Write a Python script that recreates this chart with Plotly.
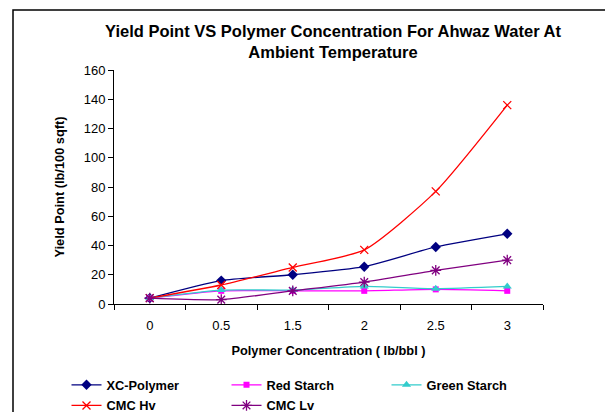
import plotly.graph_objects as go

categories = ["0", "0.5", "1.5", "2", "2.5", "3"]
xc_polymer = [4, 16, 20, 25.5, 39, 48]
red_starch = [4, 9, 9, 9, 10, 9]
green_starch = [4, 9.5, 9.5, 12, 10.5, 12]
cmc_hv = [4, 13, 25, 37, 77, 136]
cmc_lv = [4, 3, 9, 15, 23, 30]

series = [
    ("XC-Polymer", xc_polymer, "#000080", "diamond", 8, 0, "legend"),
    ("Red Starch", red_starch, "#FF00FF", "square", 6, 0, "legend2"),
    ("Green Starch", green_starch, "#33CCCC", "triangle-up", 8, 0, "legend3"),
    ("CMC Hv", cmc_hv, "#FF0000", "x-thin-open", 8, 1.3, "legend"),
    ("CMC Lv", cmc_lv, "#800080", "asterisk-open", 9, 1.3, "legend2"),
]

fig = go.Figure()
for name, vals, color, sym, size, lw, lg in series:
    marker = dict(symbol=sym, size=size, color=color)
    if lw:
        marker["line"] = dict(color=color, width=lw)
    fig.add_trace(go.Scatter(
        x=categories, y=vals, name="<b>" + name + "</b>", mode="lines+markers",
        line=dict(color=color, width=1.3, shape="spline", smoothing=0.6),
        marker=marker, legend=lg, legendgroup=name,
    ))

font = "Liberation Sans, Arial, sans-serif"
L, R, T, B = 114, 62, 70, 108
pw, ph = 605 - L - R, 412 - T - B

def px_x(x):
    return (x - L) / pw

def px_y(y):
    return (412 - B - y) / ph

leg_common = dict(
    orientation="v", xanchor="left", y=px_y(370), yanchor="top",
    font=dict(size=12.8, family=font), tracegroupgap=1,
    bgcolor="rgba(0,0,0,0)", borderwidth=0,
)

fig.update_layout(
    width=605, height=412,
    margin=dict(l=L, r=R, t=T, b=B, autoexpand=False),
    paper_bgcolor="white", plot_bgcolor="white",
    font=dict(family=font, size=13, color="black"),
    title=dict(
        text="<b>Yield Point VS Polymer Concentration For Ahwaz Water At<br>Ambient Temperature</b>",
        x=px_x(333), xref="paper", xanchor="center",
        y=(412 - 36.5) / 412, yref="container", yanchor="middle",
        font=dict(size=16.5, family=font),
    ),
    showlegend=True,
    legend=dict(x=px_x(66.5), **leg_common),
    legend2=dict(x=px_x(226.5), **leg_common),
    legend3=dict(x=px_x(386.5), **leg_common),
    xaxis=dict(
        type="category", range=[-0.5, len(categories) - 0.5], autorange=False,
        showline=True, linecolor="black", linewidth=1,
        ticks="outside", tickson="boundaries", ticklen=5, tickcolor="black",
        showgrid=False, zeroline=False, tickfont=dict(size=13), ticklabelstandoff=9,
        title=dict(text="<b>Polymer Concentration ( lb/bbl )</b>", font=dict(size=12.8), standoff=14),
    ),
    yaxis=dict(
        range=[0, 160], dtick=20, showline=True, linecolor="black", linewidth=1,
        ticks="outside", ticklen=5, tickcolor="black", showgrid=False, zeroline=False,
        tickfont=dict(size=13),
        title=dict(text="<b>Yield Point (lb/100 sqft)</b>", font=dict(size=12.8), standoff=16),
    ),
    shapes=[dict(
        type="rect", xref="paper", yref="paper",
        x0=px_x(13), x1=1.5, y0=-1.0, y1=px_y(10),
        line=dict(color="black", width=1.5), fillcolor="rgba(0,0,0,0)", layer="below",
    )],
)

fig.write_html("out.html", config={"displayModeBar": False},
               post_script="document.body.style.margin='0';")
